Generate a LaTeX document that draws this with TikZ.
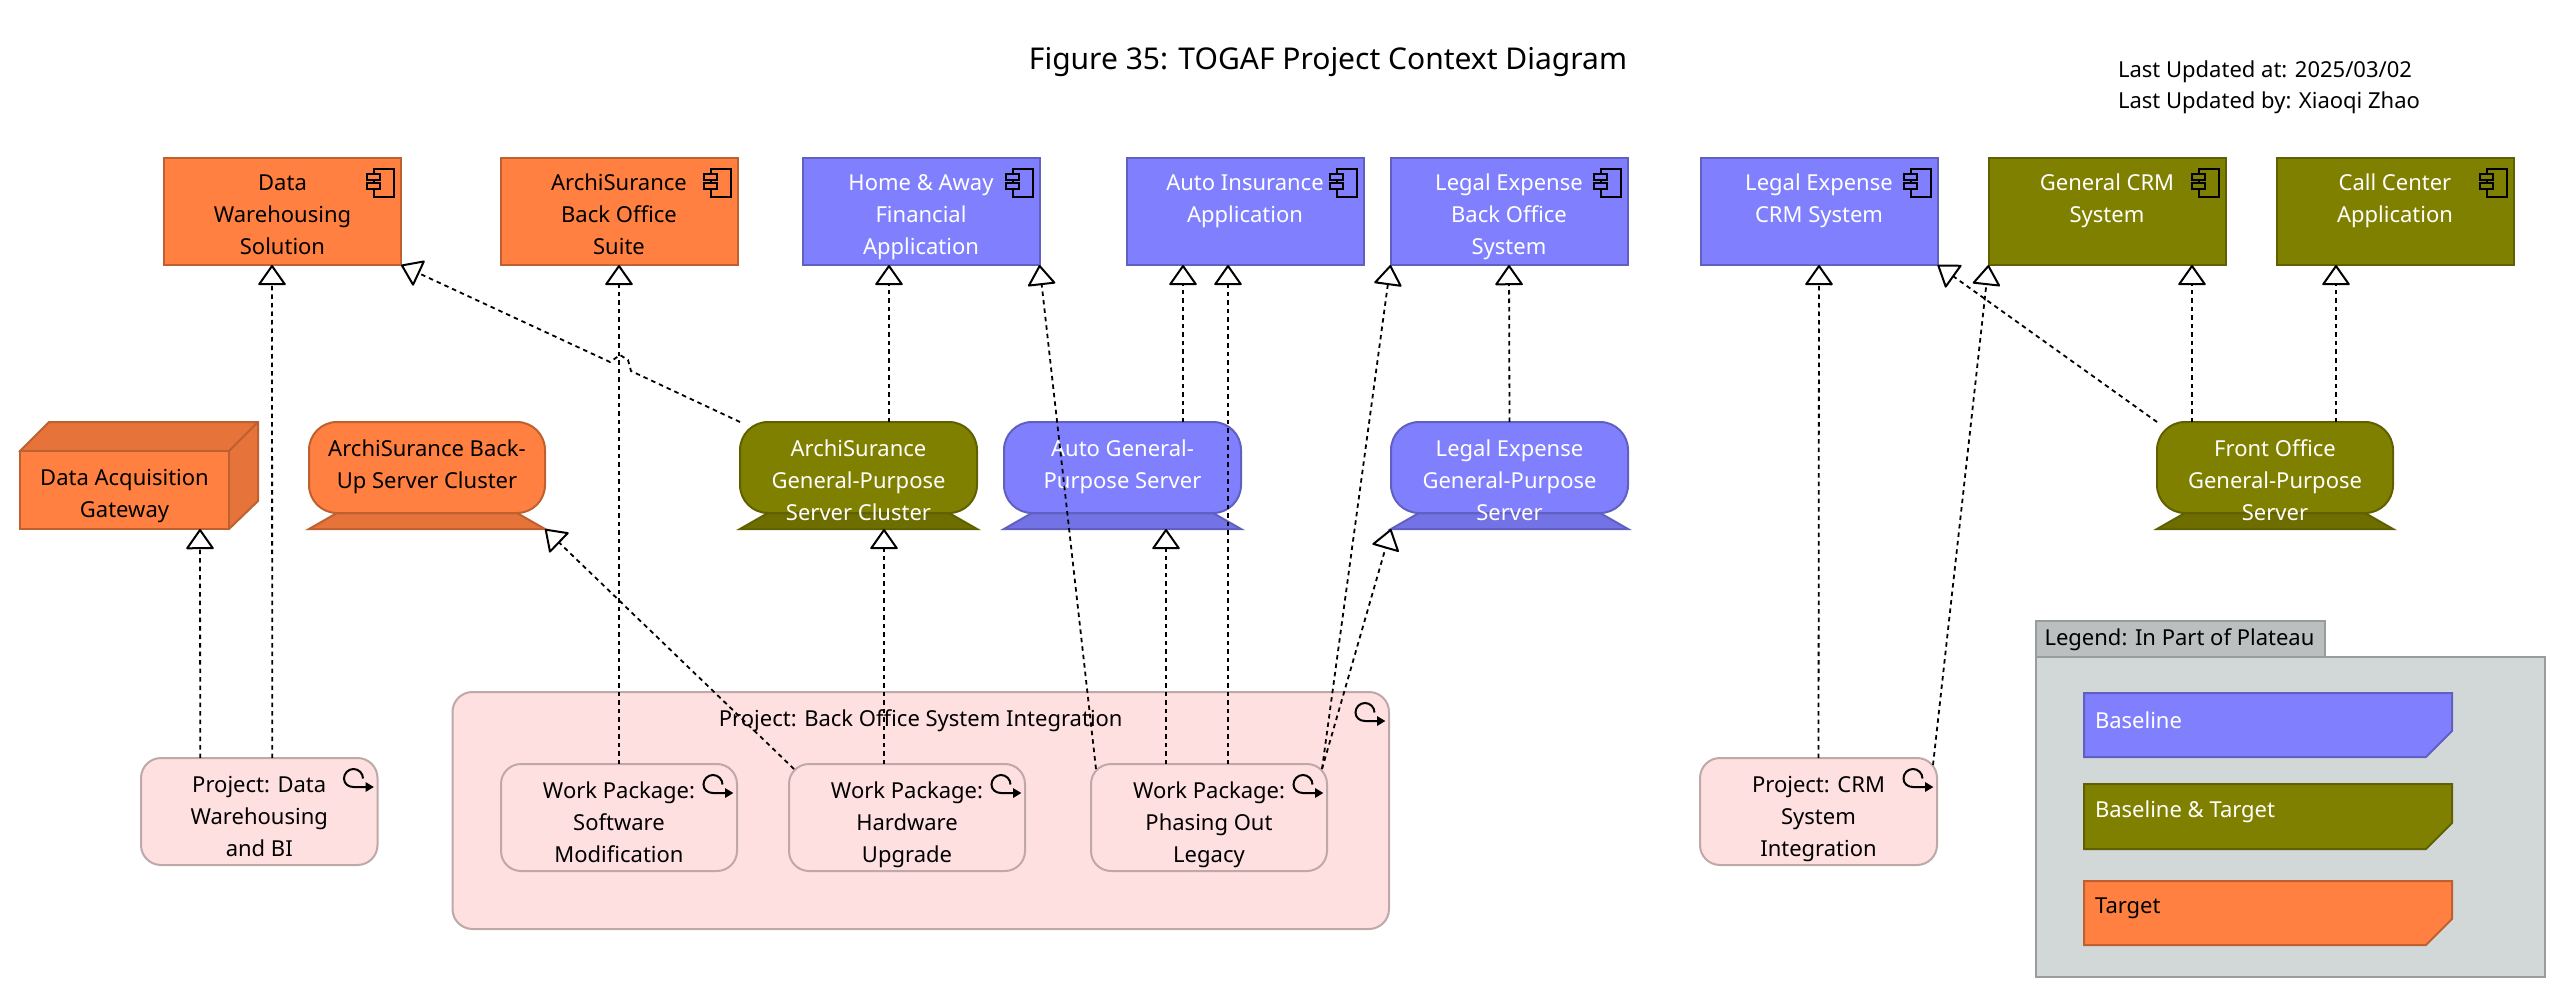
\documentclass[tikz,border=0pt]{standalone}
\usepackage{fontspec}
\setmainfont{Noto Sans}
\usetikzlibrary{arrows.meta,shapes.misc}
\definecolor{cB}{HTML}{8080FF}\definecolor{cBd}{HTML}{6060C0}\definecolor{cBs}{HTML}{7373E6}
\definecolor{cO}{HTML}{808000}\definecolor{cOd}{HTML}{606000}\definecolor{cOs}{HTML}{6E6E00}
\definecolor{cR}{HTML}{FF8040}\definecolor{cRd}{HTML}{BF6030}\definecolor{cRs}{HTML}{E67339}
\definecolor{cP}{HTML}{FFE0E0}\definecolor{cPd}{HTML}{BFA8A8}
\definecolor{cL}{HTML}{D2D7D7}\definecolor{cLd}{HTML}{989C9C}\definecolor{cLt}{HTML}{BCBFBF}
\newcommand\Txt[4]{\parbox[c][#2pt][t]{#1pt}{\centering\rule{0pt}{#3pt}#4}}
\newcommand\CompIcon[3]{\begin{scope}[shift={(#1,#2)},line width=2pt]
\draw[fill=#3] (-27,11.3) rectangle (-6.6,38.7);
\draw[fill=#3] (-34,16) rectangle (-21,22);
\draw[fill=#3] (-34,25.3) rectangle (-21,31.3);
\end{scope}}
\newcommand\WpIcon[2]{\begin{scope}[shift={(#1,#2)},line width=2pt]
\draw (-14.5,20.5) .. controls (-14.5,15.3) and (-18.8,11) .. (-24,11) .. controls (-29.2,11) and (-33.5,15.3) .. (-33.5,20.5) .. controls (-33.5,25.7) and (-29.2,29) .. (-24,29) -- (-10,29);
\fill (-3.7,29) -- (-12,24) -- (-12,34) -- cycle;
\end{scope}}
\newcommand\Dev[6]{% name x1 x2 fillstyle standcolor text
\pgfmathsetmacro\dxa{#2+28}\pgfmathsetmacro\dxb{#3-28}\pgfmathsetmacro\dxc{(#2+#3)/2}\pgfmathsetmacro\dxw{#3-#2}
\draw[#4,fill=#5] (#2,529) -- (\dxa,513) -- (\dxb,513) -- (#3,529) -- cycle;
\draw[#4,rounded corners=28pt] (#2,422) rectangle (#3,513);
\node[plain] (#1) at (\dxc,475.5) {\Txt{\dxw}{107}{34}{#6}};}
\newcommand\Tag[4]{% y1 y2 style text
\pgfmathsetmacro\tya{#2-26}
\draw[#3] (2084,#1) -- (2452,#1) -- (2452,\tya) -- (2426,#2) -- (2084,#2) -- cycle;}
\tikzset{
 x=1pt,y=-1pt,
 plain/.style={inner sep=0pt,outer sep=0pt,font=\fontsize{22}{32}\selectfont},
 sB/.style={fill=cB,draw=cBd,line width=2pt},
 sO/.style={fill=cO,draw=cOd,line width=2pt},
 sR/.style={fill=cR,draw=cRd,line width=2pt},
 sP/.style={fill=cP,draw=cPd,line width=2pt,rounded corners=20pt},
 real/.style={line width=1.8pt,dash pattern=on 4.5pt off 4pt,-{Triangle[fill=white,length=21pt,width=29pt,line width=2pt,round=false,sep=0pt]}},
 legtext/.style={plain,anchor=west},
}
\begin{document}
\begin{tikzpicture}
\useasboundingbox (0,0) rectangle (2568,1000);
% title
\node[plain,font=\fontsize{30}{36}\selectfont\bfseries] (title) at (1328,62) {Figure 35: TOGAF Project Context Diagram};
\node[plain,anchor=west] (upd1) at (2118,72) {Last Updated at: 2025/03/02};
\node[plain,anchor=west] (upd2) at (2118,103) {Last Updated by: Xiaoqi Zhao};
% components
\node[plain,sR] (dw) at (282.5,211.5) {\Txt{237}{107}{33}{Data\\Warehousing\\Solution}};
\node[plain,sR] (ab) at (619,211.5) {\Txt{237}{107}{33}{ArchiSurance\\Back Office\\Suite}};
\node[plain,sB,text=white] (ha) at (921,211.5) {\Txt{237}{107}{33}{Home \& Away\\Financial\\Application}};
\node[plain,sB,text=white] (ai) at (1245,211.5) {\Txt{237}{107}{33}{Auto Insurance\\Application}};
\node[plain,sB,text=white] (lb) at (1509,211.5) {\Txt{237}{107}{33}{Legal Expense\\Back Office\\System}};
\node[plain,sB,text=white] (lc) at (1819,211.5) {\Txt{237}{107}{33}{Legal Expense\\CRM System}};
\node[plain,sO,text=white] (gc) at (2107,211.5) {\Txt{237}{107}{33}{General CRM\\System}};
\node[plain,sO,text=white] (cc) at (2395,211.5) {\Txt{237}{107}{33}{Call Center\\Application}};
\CompIcon{401}{158}{cR}\CompIcon{737.5}{158}{cR}\CompIcon{1039.5}{158}{cB}\CompIcon{1363.5}{158}{cB}
\CompIcon{1627.5}{158}{cB}\CompIcon{1937.5}{158}{cB}\CompIcon{2225.5}{158}{cO}\CompIcon{2513.5}{158}{cO}
% gateway
\draw[sR,fill=cRs] (20,451) -- (49,422) -- (258,422) -- (258,501) -- (229,529) -- cycle;
\draw[sR,fill=cRs] (229,451) -- (258,422);
\node[plain,sR] (gw) at (124.5,490) {\Txt{209}{78}{34}{Data Acquisition\\Gateway}};
% devices
\Dev{bu}{309}{545}{sR}{cRs}{ArchiSurance Back-\\Up Server Cluster}
\Dev{ag}{740}{977}{sO}{cOs}{\color{white}ArchiSurance\\General-Purpose\\Server Cluster}
\Dev{au}{1004}{1241}{sB}{cBs}{\color{white}Auto General-\\Purpose Server}
\Dev{lg}{1391}{1628}{sB}{cBs}{\color{white}Legal Expense\\General-Purpose\\Server}
\Dev{fo}{2157}{2393}{sO}{cOs}{\color{white}Front Office\\General-Purpose\\Server}
% projects
\node[plain,sP] (pd) at (259.25,811.5) {\Txt{236.5}{107}{34}{Project: Data\\Warehousing\\and BI}};
\node[plain,sP] (pg) at (920.75,810.5) {\Txt{936.5}{237}{34}{Project: Back Office System Integration}};
\node[plain,sP] (ws) at (619,817.5) {\Txt{236}{107}{34}{Work Package:\\Software\\Modification}};
\node[plain,sP] (wh) at (907,817.5) {\Txt{236}{107}{34}{Work Package:\\Hardware\\Upgrade}};
\node[plain,sP] (wp) at (1209,817.5) {\Txt{236}{107}{34}{Work Package:\\Phasing Out\\Legacy}};
\node[plain,sP] (pc) at (1818.5,811.5) {\Txt{237}{107}{34}{Project: CRM\\System\\Integration}};
\WpIcon{377.5}{758}\WpIcon{1389}{692}\WpIcon{737}{764}\WpIcon{1025}{764}\WpIcon{1327}{764}\WpIcon{1937}{758}
% legend
\draw[fill=cLt,draw=cLd,line width=2pt] (2036,657) -- (2036,621) -- (2325,621) -- (2325,657);
\node[legtext] (legtab) at (2044.5,640) {Legend: In Part of Plateau};
\draw[fill=cL,draw=cLd,line width=2pt] (2036,657) rectangle (2545,977);
\Tag{693}{757}{sB}{}\Tag{784}{849}{sO}{}\Tag{881}{945}{sR}{}
\node[legtext,text=white] (leg1) at (2095,720) {Baseline};
\node[legtext,text=white] (leg2) at (2095,812) {Baseline \& Target};
\node[legtext] (leg3) at (2095,908) {Target};
% hop coordinates
\coordinate (j1) at (631,371);\coordinate (j2) at (628,360);\coordinate (j3) at (620,355);\coordinate (j4) at (610,362);
% connectors
\draw[real] ([xshift=-59pt]pd.north) -- ([xshift=75.5pt]gw.south);
\draw[real] ([xshift=13pt]pd.north) -- ([xshift=-10.5pt]dw.south);
\draw[real] (ag.north west) -- (j1) -- (j2) -- (j3) -- (j4) -- (dw.south east);
\draw[real] (ws.north) -- (ab.south);
\draw[real] ([xshift=5pt,yshift=-5pt]wh.north west) -- (bu.south east);
\draw[real] ([xshift=-23pt]wh.north) -- ([xshift=25.5pt]ag.south);
\draw[real] ([xshift=30.5pt]ag.north) -- ([xshift=-32pt]ha.south);
\draw[real] ([xshift=5pt,yshift=-5pt]wp.north west) -- (ha.south east);
\draw[real] ([xshift=-43pt]wp.north) -- ([xshift=43.5pt]au.south);
\draw[real] ([xshift=19pt]wp.north) -- ([xshift=-17pt]ai.south);
\draw[real] ([xshift=60.5pt]au.north) -- ([xshift=-62pt]ai.south);
\draw[real] (lg.north) -- (lb.south);
\draw[real] ([xshift=-5pt,yshift=-5pt]wp.north east) -- (lb.south west);
\draw[real] ([xshift=-5pt,yshift=-5pt]wp.north east) -- (lg.south west);
\draw[real] (pc.north) -- (lc.south);
\draw[real] ([xshift=-4pt,yshift=-7pt]pc.north east) -- (gc.south west);
\draw[real] (fo.north west) -- (lc.south east);
\draw[real] ([xshift=-83pt]fo.north) -- ([xshift=85pt]gc.south);
\draw[real] ([xshift=61pt]fo.north) -- ([xshift=-59pt]cc.south);
\end{tikzpicture}
\end{document}
